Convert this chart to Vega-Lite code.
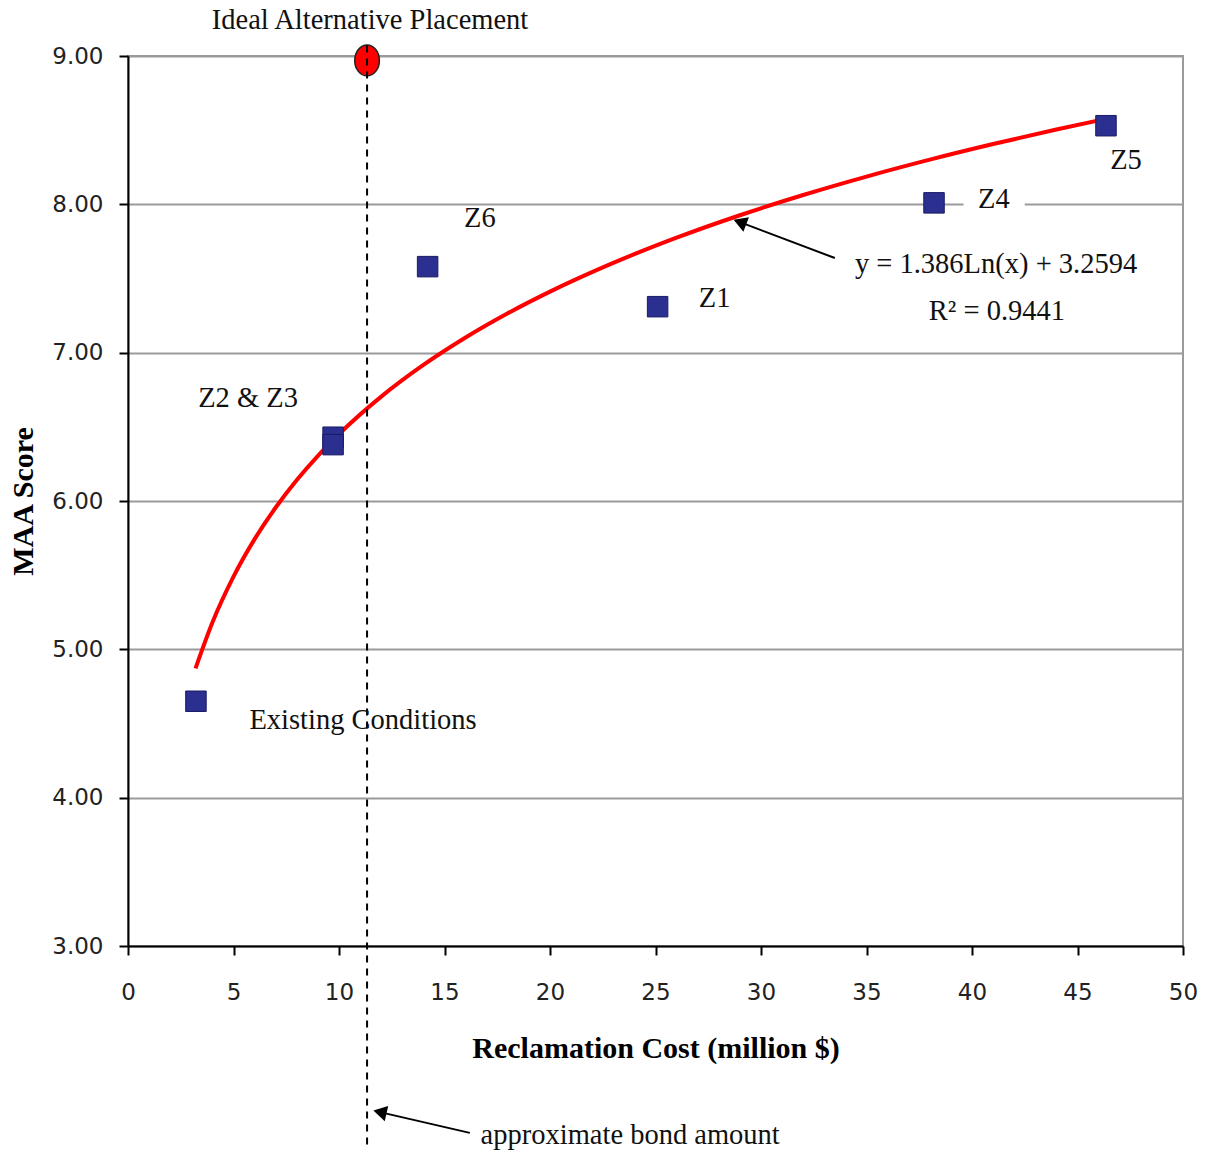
{
  "$schema": "https://vega.github.io/schema/vega-lite/v6.json",
  "width": 1055,
  "height": 890,
  "padding": {"left": 128, "top": 56, "right": 27, "bottom": 205},
  "autosize": {"type": "none"},
  "background": "white",
  "config": {
    "view": {"stroke": "#9a9a9a", "strokeWidth": 2},
    "font": "Liberation Serif"
  },
  "datasets": {
    "points": [
      {"name": "Existing", "cost": 3.22, "score": 4.65},
      {"name": "Z2", "cost": 9.72, "score": 6.43},
      {"name": "Z3", "cost": 9.72, "score": 6.38},
      {"name": "Z6", "cost": 14.2, "score": 7.58},
      {"name": "Z1", "cost": 25.1, "score": 7.31},
      {"name": "Z4", "cost": 38.2, "score": 8.01},
      {"name": "Z5", "cost": 46.35, "score": 8.53}
    ],
    "trend": [
      {"cost": 3.2, "score": 4.8715},
      {"cost": 4, "score": 5.1808},
      {"cost": 5, "score": 5.4901},
      {"cost": 6, "score": 5.7428},
      {"cost": 7, "score": 5.9564},
      {"cost": 8, "score": 6.1415},
      {"cost": 9, "score": 6.3048},
      {"cost": 10, "score": 6.4508},
      {"cost": 12, "score": 6.7035},
      {"cost": 14, "score": 6.9171},
      {"cost": 16, "score": 7.1022},
      {"cost": 18, "score": 7.2655},
      {"cost": 20, "score": 7.4115},
      {"cost": 23, "score": 7.6052},
      {"cost": 26, "score": 7.7751},
      {"cost": 29, "score": 7.9265},
      {"cost": 32, "score": 8.0629},
      {"cost": 35, "score": 8.1871},
      {"cost": 38, "score": 8.3011},
      {"cost": 41, "score": 8.4064},
      {"cost": 44, "score": 8.5043},
      {"cost": 46.4, "score": 8.5779}
    ],
    "ideal": [{"cost": 11.33, "score": 8.97}],
    "bond": [{"cost": 11.33, "top": 9.07, "bottom": 1.65}],
    "gaps": [{"x1": 39.6, "x2": 42.5, "score": 8.0}],
    "arrows": [
      {"x1": 33.5, "y1": 7.638, "x2": 29.0, "y2": 7.88, "angle": 291},
      {"x1": 16.2, "y1": 1.74, "x2": 11.94, "y2": 1.88, "angle": 283}
    ],
    "labels": [
      {"label": "Ideal Alternative Placement", "cost": 11.47, "score": 9.243},
      {"label": "Z6", "cost": 16.68, "score": 7.908},
      {"label": "Z2 & Z3", "cost": 5.69, "score": 6.694},
      {"label": "Z1", "cost": 27.8, "score": 7.368},
      {"label": "Z4", "cost": 41.04, "score": 8.036},
      {"label": "Z5", "cost": 47.3, "score": 8.299},
      {"label": "Existing Conditions", "cost": 11.14, "score": 4.523},
      {"label": "y = 1.386Ln(x) + 3.2594", "cost": 41.14, "score": 7.597},
      {"label": "R² = 0.9441", "cost": 41.18, "score": 7.28},
      {"label": "approximate bond amount", "cost": 23.8, "score": 1.724}
    ]
  },
  "layer": [
    {
      "data": {"name": "points"},
      "mark": {"type": "line", "opacity": 0},
      "encoding": {
        "x": {
          "field": "cost", "type": "quantitative",
          "scale": {"domain": [0, 50], "nice": false, "zero": false},
          "axis": {
            "values": [0, 5, 10, 15, 20, 25, 30, 35, 40, 45, 50],
            "title": "Reclamation Cost (million $)",
            "titleFont": "Liberation Serif", "titleFontSize": 30, "titleFontWeight": "bold",
            "titleColor": "#000", "titlePadding": 29,
            "labelFont": "DejaVu Sans", "labelFontSize": 23, "labelColor": "#222",
            "labelPadding": 26, "labelFlush": false, "labelOverlap": false,
            "domainColor": "#000", "domainWidth": 2,
            "tickColor": "#000", "tickWidth": 2, "tickSize": 9,
            "grid": false
          }
        },
        "y": {
          "field": "score", "type": "quantitative",
          "scale": {"domain": [3, 9], "nice": false, "zero": false},
          "axis": {
            "values": [3, 4, 5, 6, 7, 8, 9],
            "format": ".2f",
            "title": "MAA Score",
            "titleFont": "Liberation Serif", "titleFontSize": 30, "titleFontWeight": "bold",
            "titleColor": "#000", "titlePadding": 13,
            "labelFont": "DejaVu Sans", "labelFontSize": 23, "labelColor": "#222",
            "labelPadding": 16, "labelFlush": false, "labelOverlap": false,
            "domainColor": "#000", "domainWidth": 2,
            "tickColor": "#000", "tickWidth": 2, "tickSize": 9,
            "grid": true, "gridColor": "#9a9a9a", "gridWidth": 2
          }
        }
      }
    },
    {
      "data": {"name": "gaps"},
      "mark": {"type": "rule", "color": "white", "strokeWidth": 5},
      "encoding": {
        "x": {"field": "x1", "type": "quantitative"},
        "x2": {"field": "x2"},
        "y": {"field": "score", "type": "quantitative"}
      }
    },
    {
      "data": {"name": "trend"},
      "mark": {"type": "line", "color": "#ff0000", "strokeWidth": 4, "interpolate": "monotone"},
      "encoding": {
        "x": {"field": "cost", "type": "quantitative"},
        "y": {"field": "score", "type": "quantitative"}
      }
    },
    {
      "data": {"name": "points"},
      "mark": {"type": "point", "shape": "square", "filled": true, "size": 420, "color": "#2b2f8f", "stroke": "#1a1a66", "strokeWidth": 1, "opacity": 1},
      "encoding": {
        "x": {"field": "cost", "type": "quantitative"},
        "y": {"field": "score", "type": "quantitative"}
      }
    },
    {
      "data": {"name": "ideal"},
      "mark": {"type": "point", "shape": "M-0.8,0A0.8,1,0,1,0,0.8,0A0.8,1,0,1,0,-0.8,0Z", "filled": true, "size": 950, "color": "#ff0000", "stroke": "#222", "strokeWidth": 1.5, "opacity": 1},
      "encoding": {
        "x": {"field": "cost", "type": "quantitative"},
        "y": {"field": "score", "type": "quantitative"}
      }
    },
    {
      "data": {"name": "bond"},
      "mark": {"type": "rule", "color": "#000", "strokeWidth": 2, "strokeDash": [7, 6]},
      "encoding": {
        "x": {"field": "cost", "type": "quantitative"},
        "y": {"field": "top", "type": "quantitative"},
        "y2": {"field": "bottom"}
      }
    },
    {
      "data": {"name": "arrows"},
      "mark": {"type": "rule", "color": "#000", "strokeWidth": 2},
      "encoding": {
        "x": {"field": "x1", "type": "quantitative"},
        "y": {"field": "y1", "type": "quantitative"},
        "x2": {"field": "x2"},
        "y2": {"field": "y2"}
      }
    },
    {
      "data": {"name": "arrows"},
      "mark": {"type": "point", "shape": "triangle-up", "filled": true, "size": 240, "color": "#000", "opacity": 1},
      "encoding": {
        "x": {"field": "x2", "type": "quantitative"},
        "y": {"field": "y2", "type": "quantitative"},
        "angle": {"field": "angle", "type": "quantitative", "scale": null}
      }
    },
    {
      "data": {"name": "labels"},
      "mark": {"type": "text", "font": "Liberation Serif", "fontSize": 28.5, "color": "#111", "align": "center", "baseline": "middle"},
      "encoding": {
        "x": {"field": "cost", "type": "quantitative"},
        "y": {"field": "score", "type": "quantitative"},
        "text": {"field": "label"}
      }
    }
  ]
}
